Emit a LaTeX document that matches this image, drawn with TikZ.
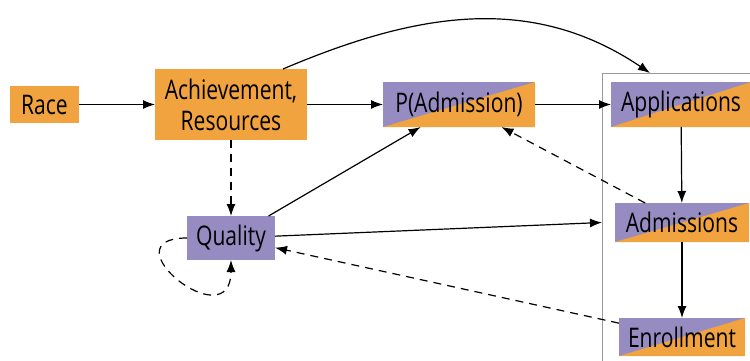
\documentclass[tikz,border=0pt]{standalone}
\usepackage{fontspec}
\setmainfont{Open Sans}[FakeStretch=0.78]
\usetikzlibrary{arrows.meta}
\definecolor{lilac}{RGB}{151,140,193}
\definecolor{amber}{RGB}{240,163,62}
\tikzset{
	box/.style = {fill=#1, inner sep=0pt, outer sep=0pt, align=center,
		font=\fontsize{27}{31}\selectfont},
	box/.default = amber,
	split/.style = {box=lilac, path picture={
		\fill[amber] (path picture bounding box.south west)
			-- (path picture bounding box.north east)
			-- (path picture bounding box.south east) -- cycle;}},
	arr/.style = {line width=1.2pt, -{Latex[length=12pt,width=9pt]}},
	dsh/.style = {arr, dash pattern=on 8pt off 6pt}
}

\begin{document}
\begin{tikzpicture}[x=1pt, y=-1pt]
\useasboundingbox (0,0) rectangle (750,361);
\clip (0,0) rectangle (750,361);

\node[draw=gray!80, line width=1pt, minimum width=200pt, minimum height=340pt,
	anchor=north west, inner sep=0pt] (frame) at (602,73) {};

\node[box, minimum width=69pt, minimum height=37pt] (race) at (44.5,104.5) {Race};
\node[box, minimum width=152pt, minimum height=71pt] (achieve) at (231,104.5) {Achievement,\\Resources};
\node[split, minimum width=152pt, minimum height=45pt] (padmit) at (459,104.5) {P(Admission)};
\node[box=lilac, minimum width=88pt, minimum height=44pt] (quality) at (231,238) {Quality};

\node[split, minimum width=140pt, minimum height=45pt] (apps) at (681,104.5) {Applications};
\node[split, minimum width=134pt, minimum height=39pt] (admits) at (682,222.5) {Admissions};
\node[split, minimum width=126pt, minimum height=38pt] (enroll) at (682,337) {Enrollment};

\draw[arr] (race) to (achieve);
\draw[arr] (achieve) to (padmit);
\draw[arr] (padmit) to (apps);
\draw[arr] ([xshift=52pt]achieve.north) to[out=23, in=146] ([xshift=48pt]frame.north west);
\draw[dsh] (achieve) to (quality);
\draw[arr] (quality) to (padmit);
\draw[arr] (quality) to (frame.west |- admits);
\draw[dsh] (admits) to (padmit);
\draw[dsh] (enroll) to (quality);
\draw[arr] (apps) to (admits);
\draw[arr] (admits) to (enroll);
\draw[dsh] (quality.west) .. controls +(-82,0) and +(0,80) .. (quality.south);
\end{tikzpicture}
\end{document}
